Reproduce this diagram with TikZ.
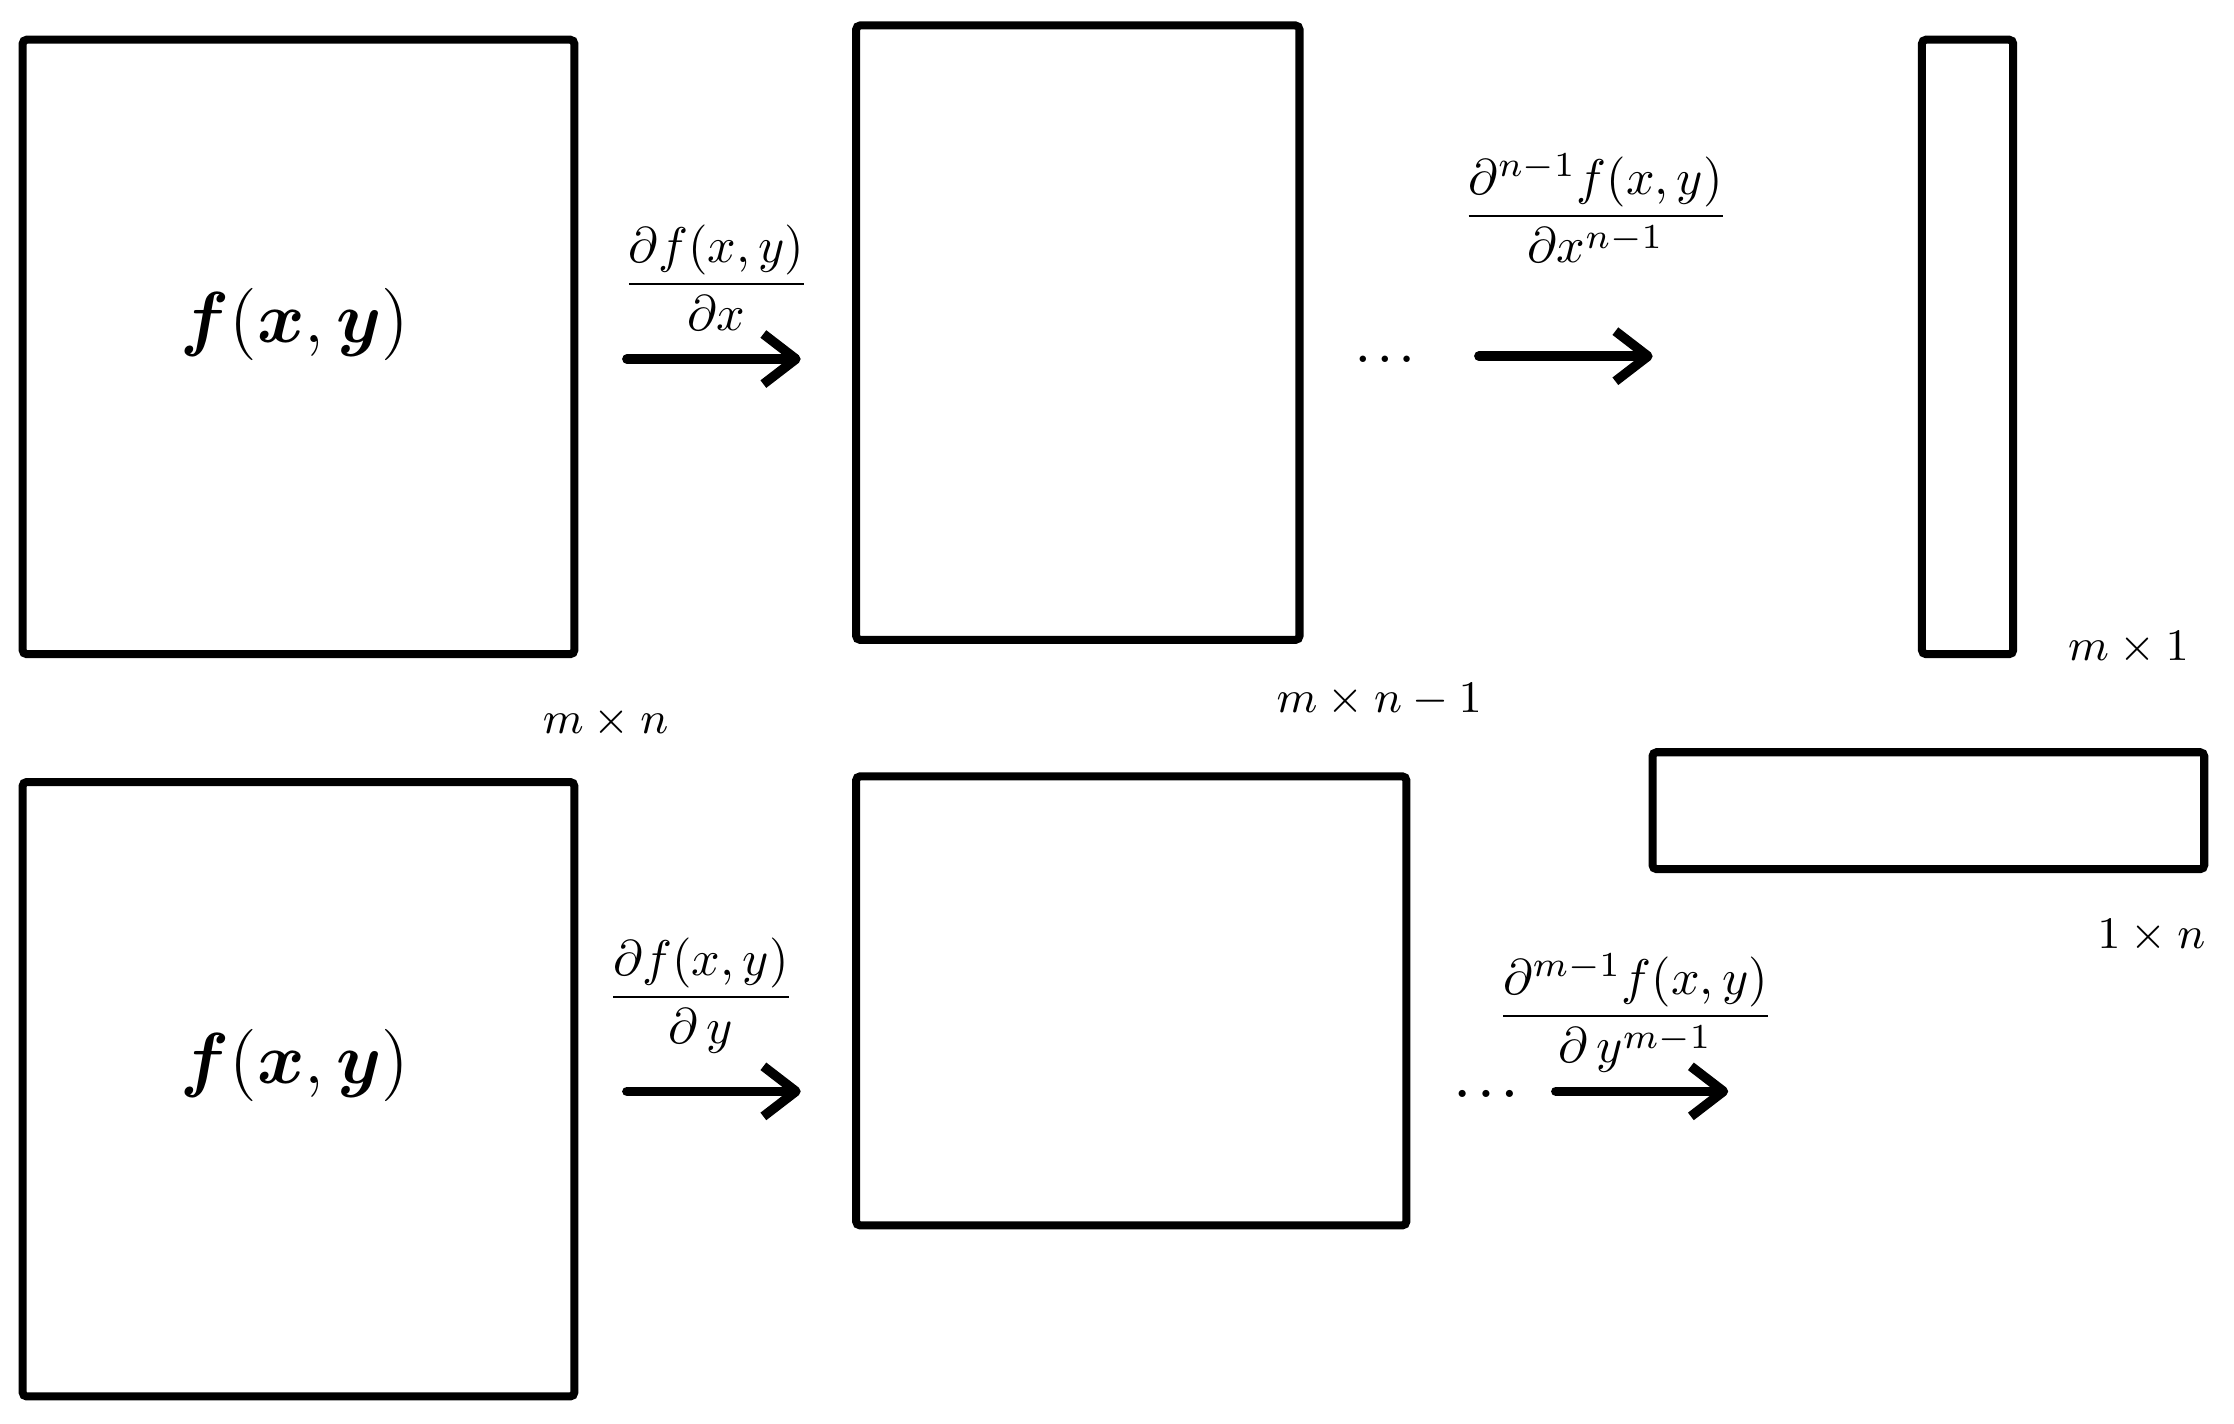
\documentclass[tikz,border=0pt]{standalone}
\usepackage{amsmath,bm}
\usetikzlibrary{arrows.meta}
\tikzset{
  box/.style={draw, line width=1.6pt, rounded corners=0.8pt, inner sep=0pt},
  arr/.style={line width=1.9pt, line cap=round, -{Straight Barb[length=6.5pt,width=10pt,line join=round]}},
  lbl/.style={inner sep=1pt, font=\fontsize{10}{12}\selectfont},
  dimlbl/.style={inner sep=1pt, font=\fontsize{9.2}{11}\selectfont},
  big/.style={inner sep=1pt, font=\fontsize{15.5}{18}\selectfont},
  dotlbl/.style={inner sep=0pt, font=\fontsize{8}{10}\selectfont}
}
\begin{document}
\begin{tikzpicture}[x=0.01cm,y=-0.01cm]
\useasboundingbox (0,0) rectangle (1568,999);

% top row
\node[box, minimum width=3.87cm, minimum height=4.31cm] (b1) at (209.5,243.5) {};
\node[big] (f1) at (207,228) {$\bm{f}(\bm{x},\bm{y})$};
\node[box, minimum width=3.11cm, minimum height=4.31cm] (b2) at (756.5,233.5) {};
\node[box, minimum width=0.64cm, minimum height=4.31cm] (b3) at (1381,243.5) {};

\coordinate (a1s) at (440,252); \coordinate (a1e) at (562,252);
\draw[arr] (a1s) -- (a1e);
\node[lbl] (l1) at (503,195) {$\dfrac{\partial f(x,y)}{\partial x}$};

\node[dotlbl] (d1) at (972,252) {$\bm{\ldots}$};
\coordinate (a2s) at (1038,250); \coordinate (a2e) at (1160,250);
\draw[arr] (a2s) -- (a2e);
\node[lbl] (l2) at (1120,146) {$\dfrac{\partial^{n-1} f(x,y)}{\partial x^{n-1}}$};

\node[dimlbl] (s1) at (425,507) {$m\times n$};
\node[dimlbl] (s2) at (968,491) {$m\times n-1$};
\node[dimlbl] (s3) at (1494,455) {$m\times 1$};

% bottom row
\node[box, minimum width=3.87cm, minimum height=4.31cm] (b4) at (209.5,764.5) {};
\node[big] (f2) at (207,748) {$\bm{f}(\bm{x},\bm{y})$};
\node[box, minimum width=3.86cm, minimum height=3.15cm] (b5) at (794,702.5) {};
\node[box, minimum width=3.87cm, minimum height=0.82cm] (b6) at (1353.5,569) {};

\coordinate (a3s) at (440,766); \coordinate (a3e) at (562,766);
\draw[arr] (a3s) -- (a3e);
\node[lbl] (l3) at (492,699) {$\dfrac{\partial f(x,y)}{\partial\, y}$};

\node[dotlbl, font=\fontsize{9.5}{11}\selectfont] (d2) at (1043,768) {$\bm{\ldots}$};
\coordinate (a4s) at (1092,766); \coordinate (a4e) at (1213,766);
\draw[arr] (a4s) -- (a4e);
\node[lbl] (l4) at (1148,711) {$\dfrac{\partial^{m-1} f(x,y)}{\partial\, y^{m-1}}$};

\node[dimlbl] (s4) at (1510,657) {$1\times n$};
\end{tikzpicture}
\end{document}
